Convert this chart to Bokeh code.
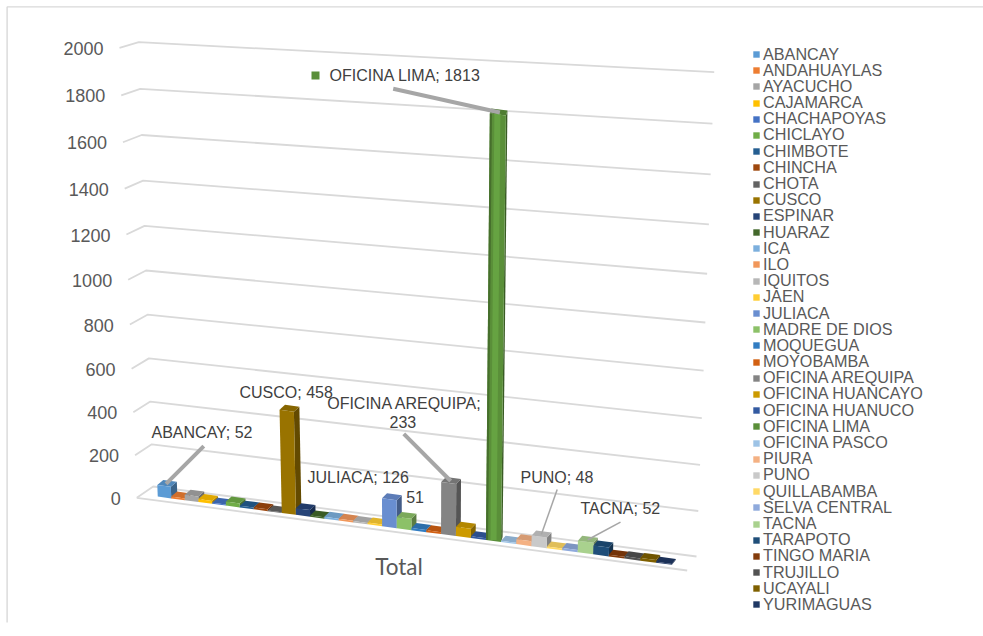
from bokeh.plotting import figure
from bokeh.models import Range1d, Legend, LegendItem
from bokeh.core.properties import value
from bokeh.embed import file_html
from bokeh.resources import INLINE

OFFICES = ["ABANCAY","ANDAHUAYLAS","AYACUCHO","CAJAMARCA","CHACHAPOYAS","CHICLAYO","CHIMBOTE","CHINCHA","CHOTA","CUSCO",
           "ESPINAR","HUARAZ","ICA","ILO","IQUITOS","JAEN","JULIACA","MADRE DE DIOS","MOQUEGUA","MOYOBAMBA",
           "OFICINA AREQUIPA","OFICINA HUANCAYO","OFICINA HUANUCO","OFICINA LIMA","OFICINA PASCO","PIURA","PUNO","QUILLABAMBA","SELVA CENTRAL","TACNA",
           "TARAPOTO","TINGO MARIA","TRUJILLO","UCAYALI","YURIMAGUAS"]
TOTALS = [52,8,25,13,5,18,8,8,3,458,
          30,6,8,8,6,8,126,51,10,8,
          233,42,8,1813,6,22,48,8,10,52,
          40,8,10,12,4]
COLORS = ["#5B9BD5","#ED7D31","#A5A5A5","#FFC000","#4472C4","#70AD47","#255E91","#9E480E","#636363","#997300",
          "#264478","#43682B","#7CAFDD","#F1975A","#B7B7B7","#FFCD33","#698ED0","#8CC168","#327DC2","#D26012",
          "#848484","#CC9A00","#335AA1","#5A8F39","#9DC3E6","#F4B183","#C9C9C9","#FFD966","#8FAADC","#A9D18E",
          "#1F4E79","#843C0C","#525252","#7F6000","#203864"]
TICKS = [0,200,400,600,800,1000,1200,1400,1600,1800,2000]
GREY_TEXT = "#595959"
DARK_TEXT = "#404040"
GRID = "#d9d9d9"
LEADER = "#a6a6a6"
FONT = value("Liberation Sans")

# ---- 3-D projection of the Excel chart box (value, category) -> page position
def quad(a, b, c, t):
    return a + b * t + c * t * t

def front_left(v):
    t = v / 2000
    return 136.3 - 17.3 * t, quad(497.3, -422, -28, t)

def back_left(v):
    t = v / 2000
    return 152.7 - 14.4 * t, quad(486, -419.7, -24.6, t)

def back_right(v):
    t = v / 2000
    return 696 + 17.7 * t, quad(556, -451.7, -32.6, t)

def cat_x(i):
    return 164 + 13.5 * i + 0.035 * i * i

def cat_y(i):
    return 497 + 1.78 * i + 0.005 * i * i

def height(v):
    return 0.222 * v * (1 + 3.3e-5 * v)

def lean(x, h):
    return x + (x - 425) * 1.5e-4 * h

def scale_darker(hex_color, k):
    r, g, b = (int(hex_color[j:j + 2], 16) for j in (1, 3, 5))
    return "#%02x%02x%02x" % (int(r * k), int(g * k), int(b * k))

def bar_faces(i, v, dx):
    h = height(v)
    xl, xr = cat_x(i - 0.5), cat_x(i + 0.5)
    yl, yr = cat_y(i - 0.5), cat_y(i + 0.5)
    dy = -5
    tlx, trx = lean(xl, h), lean(xr, h)
    tly, try_ = yl - h, yr - h
    front = ([xl, xr, trx, tlx], [yl, yr, try_, tly])
    side = ([xr, xr + dx, trx + dx, trx], [yr, yr + dy, try_ + dy, try_])
    top = ([tlx, trx, trx + dx, tlx + dx], [tly, try_, try_ + dy, tly + dy])
    return front, side, top

def bar_top(name):
    i = OFFICES.index(name)
    h = height(TOTALS[i])
    return lean(cat_x(i), h) + 2, cat_y(i) - h - 2

p = figure(width=983, height=636, output_backend="svg", toolbar_location=None,
           x_range=Range1d(0, 983), y_range=Range1d(636, 0),
           x_axis_location=None, y_axis_location=None,
           min_border=0, min_border_left=0, min_border_right=0, min_border_top=0, min_border_bottom=0)
p.grid.visible = False
p.outline_line_color = None

# chart area border (top and left sides only are visible)
p.line([6.6, 6.6, 983], [622, 6.4, 6.4], line_color=GRID, line_width=1.4)

# walls
xs, ys = [], []
for t in TICKS:
    a, b, c = front_left(t), back_left(t), back_right(t)
    xs.append([a[0], b[0], c[0]])
    ys.append([a[1], b[1], c[1]])
p.multi_line(xs, ys, line_color=GRID, line_width=1.8)

# floor front edge
fl = front_left(0)
p.line([fl[0], 686.7], [fl[1], 570], line_color=GRID, line_width=1.8)

# axis labels
p.text([front_left(t)[0] - 16 for t in TICKS], [front_left(t)[1] + 0.5 for t in TICKS],
       text=[str(t) for t in TICKS], text_font=FONT, text_font_size="18px", text_color=GREY_TEXT,
       text_align="right", text_baseline="middle")

# bars, left to right
items = []
for i, (name, v, col) in enumerate(zip(OFFICES, TOTALS, COLORS)):
    tall = name == "OFICINA LIMA"
    front, side, top = bar_faces(i, v, 1.5 if tall else 6 - 2 * i / 34)
    p.patches([side[0]], [side[1]], fill_color=scale_darker(col, 0.65), line_color=None)
    p.patches([top[0]], [top[1]], fill_color=scale_darker(col, 0.88), line_color=None)
    r = p.patches([front[0]], [front[1]], fill_color=col, line_color=None)
    items.append(LegendItem(label=name, renderers=[r]))
    if tall:
        # rounded shading of the tall bar
        fx, fy = front
        w = fx[1] - fx[0]
        for a, b, c in [(0.0, 0.14, scale_darker(col, 0.78)), (0.3, 0.7, "#66a342")]:
            sx = [fx[0] + a * w, fx[0] + b * w, fx[3] + b * w, fx[3] + a * w]
            sy = [fy[0], fy[0], fy[3], fy[3]]
            p.patches([sx], [sy], fill_color=c, line_color=None)

# leader lines from the labels to the tops of their bars
LEADERS = [("ABANCAY", 203.3, 445.7, 4), ("OFICINA AREQUIPA", 403.3, 433.3, 4), ("OFICINA LIMA", 392.7, 88.3, 4),
           ("PUNO", 556.7, 489, 1.5), ("TACNA", 620, 521.7, 1.5)]
for name, lx, ly, lw in LEADERS:
    tx, ty = bar_top(name)
    p.line([lx, tx], [ly, ty], line_color=LEADER, line_width=lw)

# data labels
LABELS = [("ABANCAY; 52", 151, 432), ("CUSCO; 458", 239, 391.7), ("JULIACA; 126", 307, 476.7), ("51", 405.7, 496),
          ("OFICINA AREQUIPA;", 326.7, 402.7), ("233", 389, 421.7), ("OFICINA LIMA; 1813", 329, 75),
          ("PUNO; 48", 520, 476.7), ("TACNA; 52", 580, 508)]
p.text([l[1] for l in LABELS], [l[2] for l in LABELS], text=[l[0] for l in LABELS], text_font=FONT,
       text_font_size="16px", text_color=DARK_TEXT, text_baseline="middle", text_align="left")
p.scatter([315], [75], marker="square", size=8, fill_color=COLORS[23], line_color=None)

# category axis title
p.text([398.5], [566], text=["Total"], text_font=value("Lato"), text_font_size="22.5px", text_color=GREY_TEXT,
       text_align="center", text_baseline="middle")

# legend: the row pitch is tighter than a Legend's own row height, so each row is placed by itself
ROW0, PITCH, ITEM = 54.0, 16.19, 19
for k, item in enumerate(items):
    bottom = ROW0 + PITCH * k + ITEM / 2
    p.add_layout(Legend(items=[item], location=(752, 636 - bottom), orientation="vertical", border_line_color=None,
                        background_fill_alpha=0, padding=0, margin=0, spacing=0,
                        glyph_width=8, glyph_height=8, label_standoff=3, label_height=14,
                        label_text_font="Liberation Sans", label_text_font_size="16.2px",
                        label_text_color=GREY_TEXT))

open("out.html", "w").write(file_html(p, INLINE))
